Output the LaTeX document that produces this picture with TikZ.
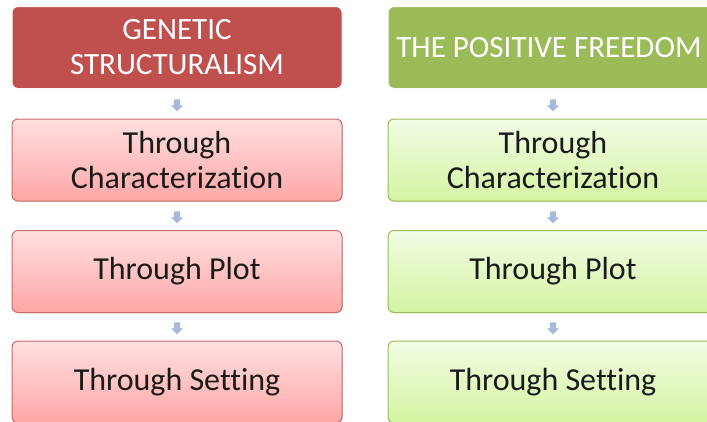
\documentclass[tikz,border=0pt]{standalone}
\usepackage{fontspec}
\setmainfont[Ligatures={NoCommon,NoDiscretionary,NoContextual}]{Carlito}
\usetikzlibrary{shapes.arrows,shadows}
\definecolor{redhead}{HTML}{C0504D}
\definecolor{greenhead}{HTML}{9BBB59}
\definecolor{pinktop}{HTML}{FFE0E0}
\definecolor{pinkbot}{HTML}{FFA6A6}
\definecolor{greentop}{HTML}{F2FCE4}
\definecolor{greenbot}{HTML}{D4F4A2}
\definecolor{arrowblue}{HTML}{A7BAD8}
\definecolor{txt}{HTML}{1A1A1A}
\tikzset{
  base/.style={rounded corners=6pt, minimum width=330pt, minimum height=82pt, inner sep=0pt, align=center, font=\fontsize{32}{35}\selectfont, line width=1pt},
  headbase/.style={base, font=\fontsize{31}{35}\selectfont, draw=white, text=white, drop shadow={opacity=0.25, shadow xshift=0.8pt, shadow yshift=-0.8pt}},
  headred/.style={headbase, fill=redhead},
  headgreen/.style={headbase, fill=greenhead},
  boxred/.style={base, top color=pinktop, bottom color=pinkbot, draw=redhead!85, text=txt, drop shadow={opacity=0.25, shadow xshift=0.8pt, shadow yshift=-0.8pt}},
  boxgreen/.style={base, top color=greentop, bottom color=greenbot, draw=greenhead, text=txt, drop shadow={opacity=0.25, shadow xshift=0.8pt, shadow yshift=-0.8pt}},
  flowarrow/.style={single arrow, shape border rotate=270, fill=arrowblue, draw=none, minimum width=12pt, minimum height=12pt, single arrow head extend=2pt, inner sep=2pt}
}
\begin{document}
\begin{tikzpicture}[x=1pt,y=-1pt]
\useasboundingbox (0,0) rectangle (707,421);
\begin{scope}
\clip (0,0) rectangle (707,421);
% left column
\node[headred] (l1) at (177,47.5) {GENETIC\\STRUCTURALISM};
\node[boxred] (l2) at (177,160) {Through\\Characterization};
\node[boxred] (l3) at (177,271.5) {Through Plot};
\node[boxred] (l4) at (177,382) {Through Setting};
% right column
\node[headgreen] (r1) at (553,47.5) {\hspace*{-8pt}THE POSITIVE FREEDOM};
\node[boxgreen] (r2) at (553,160) {Through\\Characterization};
\node[boxgreen] (r3) at (553,271.5) {Through Plot};
\node[boxgreen] (r4) at (553,382) {Through Setting};
% arrows
\path (l1.south) -- (l2.north) node[midway, flowarrow] (al1) {};
\path (l2.south) -- (l3.north) node[midway, flowarrow] (al2) {};
\path (l3.south) -- (l4.north) node[midway, flowarrow] (al3) {};
\path (r1.south) -- (r2.north) node[midway, flowarrow] (ar1) {};
\path (r2.south) -- (r3.north) node[midway, flowarrow] (ar2) {};
\path (r3.south) -- (r4.north) node[midway, flowarrow] (ar3) {};
\end{scope}
\end{tikzpicture}
\end{document}
